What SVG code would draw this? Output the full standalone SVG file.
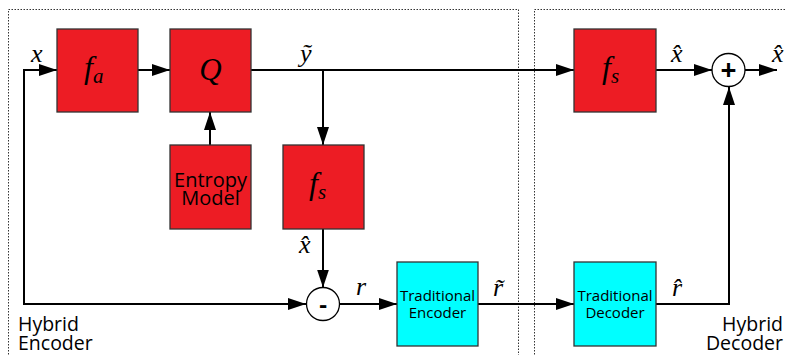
<svg xmlns="http://www.w3.org/2000/svg" width="785" height="355" viewBox="0 0 785 355">
  <style>
    .frame { fill: none; stroke: #333; stroke-width: 1; stroke-dasharray: 1.5 1.5; }
    .red { fill: #ED1C24; stroke: #333; stroke-width: 1.3; }
    .cyan { fill: #00FFFF; stroke: #333; stroke-width: 1.3; }
    .op { fill: #fff; stroke: #000; stroke-width: 1.3; }
    .wire { fill: none; stroke: #000; stroke-width: 2; }
    .math { font-family: "Liberation Serif", "DejaVu Serif", serif; font-style: italic; fill: #000; }
    .sans { font-family: "Open Sans", "Noto Sans", "DejaVu Sans", sans-serif; fill: #000; }
  </style>
  <defs>
    <marker id="arrow" markerUnits="userSpaceOnUse" markerWidth="18" markerHeight="12" refX="18" refY="6" orient="auto">
      <path d="M0,0 L18,6 L0,12 z" fill="#000"/>
    </marker>
  </defs>

  <!-- encoder / decoder frames -->
  <g id="frames">
    <rect class="frame" x="8.5" y="9.5" width="510" height="360"/>
    <rect class="frame" x="534.5" y="9.5" width="300" height="360"/>
    <text class="sans" font-size="19.5"><tspan x="18" y="331">Hybrid</tspan><tspan x="18" y="350">Encoder</tspan></text>
    <text class="sans" font-size="19.5" text-anchor="end"><tspan x="783" y="331">Hybrid</tspan><tspan x="783" y="350">Decoder</tspan></text>
  </g>

  <!-- connectors -->
  <g id="connectors">
    <path class="wire" d="M24,70 L57,70" marker-end="url(#arrow)"/>
    <path class="wire" d="M24,69 L24,304 L306,304" marker-end="url(#arrow)"/>
    <path class="wire" d="M138,70 L170,70" marker-end="url(#arrow)"/>
    <path class="wire" d="M251,70 L574,70" marker-end="url(#arrow)"/>
    <path class="wire" d="M323,70 L323,145" marker-end="url(#arrow)"/>
    <path class="wire" d="M210,145 L210,112" marker-end="url(#arrow)"/>
    <path class="wire" d="M323,229 L323,287.5" marker-end="url(#arrow)"/>
    <path class="wire" d="M340,304 L397,304" marker-end="url(#arrow)"/>
    <path class="wire" d="M478,304 L574,304" marker-end="url(#arrow)"/>
    <path class="wire" d="M656,304 L729,304 L729,87" marker-end="url(#arrow)"/>
    <path class="wire" d="M656,70 L712,70" marker-end="url(#arrow)"/>
    <path class="wire" d="M745,70 L777,70" marker-end="url(#arrow)"/>

    <!-- signal labels -->
    <text class="math" x="31" y="62" font-size="26">x</text>
    <text class="math" x="300" y="62" font-size="26">ỹ</text>
    <text class="math" x="299" y="253" font-size="26">x̂</text>
    <text class="math" x="356" y="295" font-size="26">r</text>
    <text class="math" x="493" y="296" font-size="26">r̃</text>
    <text class="math" x="672" y="296" font-size="26">r̂</text>
    <text class="math" x="671" y="62" font-size="26">x̂</text>
    <text class="math" x="772" y="62" font-size="26">x̂</text>
  </g>

  <g id="fa">
    <rect class="red" x="57" y="29" width="81" height="83"/>
    <text class="math" x="84" y="78" font-size="32">f<tspan font-size="21" dy="5">a</tspan></text>
  </g>

  <g id="quantizer">
    <rect class="red" x="170" y="29" width="81" height="83"/>
    <text class="math" x="210.5" y="80" font-size="31" text-anchor="middle">Q</text>
  </g>

  <g id="entropy-model">
    <rect class="red" x="170" y="145" width="81" height="84"/>
    <text class="sans" font-size="20" text-anchor="middle"><tspan x="210.5" y="187">Entropy</tspan><tspan x="210.5" y="205">Model</tspan></text>
  </g>

  <g id="fs-encoder">
    <rect class="red" x="283" y="145" width="81" height="84"/>
    <text class="math" x="309" y="194" font-size="32">f<tspan font-size="21" dy="5">s</tspan></text>
  </g>

  <g id="subtract">
    <circle class="op" cx="323" cy="304" r="16.5"/>
    <text class="sans" x="323" y="313" font-size="24" font-weight="bold" text-anchor="middle">-</text>
  </g>

  <g id="traditional-encoder">
    <rect class="cyan" x="397" y="262" width="81" height="84"/>
    <text class="sans" font-size="15" text-anchor="middle"><tspan x="437.5" y="301">Traditional</tspan><tspan x="437.5" y="318">Encoder</tspan></text>
  </g>

  <g id="traditional-decoder">
    <rect class="cyan" x="574" y="262" width="82" height="84"/>
    <text class="sans" font-size="15" text-anchor="middle"><tspan x="615" y="301">Traditional</tspan><tspan x="615" y="318">Decoder</tspan></text>
  </g>

  <g id="fs-decoder">
    <rect class="red" x="574" y="29" width="82" height="83"/>
    <text class="math" x="602" y="78" font-size="32">f<tspan font-size="21" dy="5">s</tspan></text>
  </g>

  <g id="add">
    <circle class="op" cx="728.5" cy="70" r="16.5"/>
    <text class="sans" x="728.5" y="79.5" font-size="28" font-weight="bold" text-anchor="middle">+</text>
  </g>
</svg>
